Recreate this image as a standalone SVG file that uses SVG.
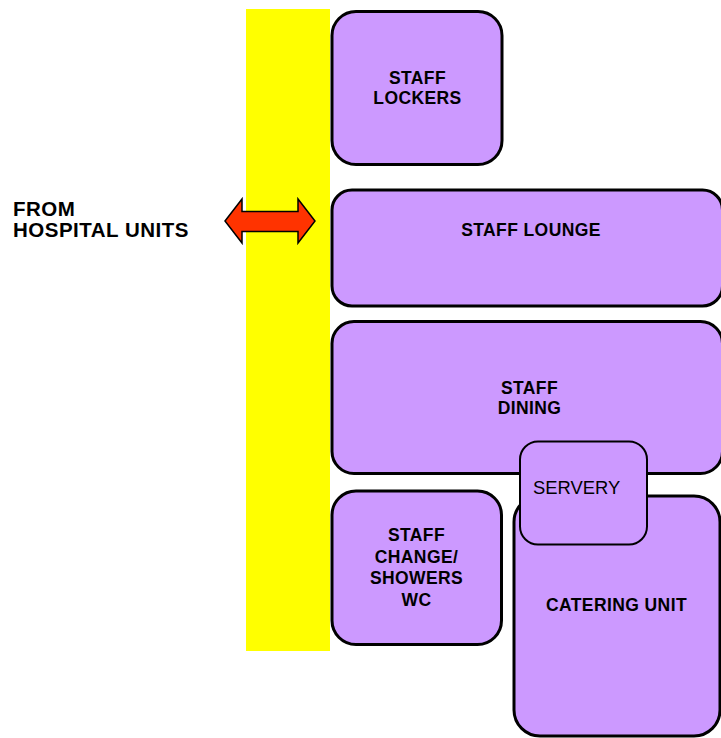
<svg xmlns="http://www.w3.org/2000/svg" width="721" height="738" viewBox="0 0 721 738">
  <style>
    .room { fill: #cc99ff; stroke: #000; stroke-width: 3; }
    .small { stroke-width: 2; }
    .lbl { font-family: "Liberation Sans", Arial, sans-serif; font-size: 17.5px; font-weight: bold; letter-spacing: 0.4px; fill: #000; text-anchor: middle; }
    .plain { font-family: "Liberation Sans", Arial, sans-serif; font-size: 18.4px; fill: #000; }
    .side { font-family: "Liberation Sans", Arial, sans-serif; font-size: 20.5px; font-weight: bold; letter-spacing: 0.5px; fill: #000; }
  </style>
  <rect width="721" height="738" fill="#fff"/>

  <!-- corridor -->
  <rect id="corridor" x="246" y="9" width="84" height="642" fill="#ffff00"/>

  <g id="from-hospital">
    <text class="side" x="13" y="216">FROM</text>
    <text class="side" x="13" y="237">HOSPITAL UNITS</text>
  </g>

  <g id="connectors">
    <polygon points="225,221 242,199 242,211.5 298,211.5 298,199 315,221 298,243 298,231.5 242,231.5 242,243" fill="#ff3300" stroke="#000" stroke-width="1.5" stroke-linejoin="miter"/>
  </g>

  <g id="staff-lockers">
    <rect class="room" x="332" y="11.5" width="170" height="153" rx="24"/>
    <text class="lbl" x="417.5" y="83.5">STAFF</text>
    <text class="lbl" x="417.5" y="103.5">LOCKERS</text>
  </g>

  <g id="staff-lounge">
    <rect class="room" x="332" y="190" width="390.5" height="116" rx="20"/>
    <text class="lbl" x="531" y="236">STAFF LOUNGE</text>
  </g>

  <g id="staff-dining">
    <rect class="room" x="332" y="321.5" width="390.5" height="152" rx="22"/>
    <text class="lbl" x="529.5" y="393.5">STAFF</text>
    <text class="lbl" x="529.5" y="413.5">DINING</text>
  </g>

  <g id="staff-change">
    <rect class="room" x="332" y="491" width="169.5" height="153.5" rx="24"/>
    <text class="lbl" x="416.5" y="541">STAFF</text>
    <text class="lbl" x="416.5" y="563">CHANGE/</text>
    <text class="lbl" x="416.5" y="584">SHOWERS</text>
    <text class="lbl" x="416.5" y="605.5">WC</text>
  </g>

  <g id="catering-unit">
    <rect class="room" x="514" y="496" width="206" height="240" rx="26"/>
    <text class="lbl" x="616.5" y="611">CATERING UNIT</text>
  </g>

  <g id="servery">
    <rect class="room small" x="520" y="441.5" width="127" height="103" rx="18"/>
    <text class="plain" x="533" y="494">SERVERY</text>
  </g>
</svg>
